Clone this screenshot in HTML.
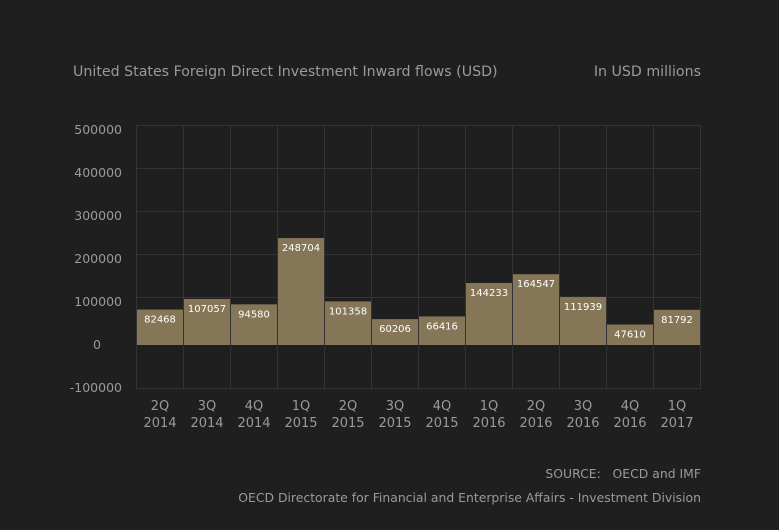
<html><head><style>body{margin:0;background:#1f1f1f}text{font-family:"DejaVu Sans","Liberation Sans",sans-serif}</style></head><body>
<svg width="779" height="530" viewBox="0 0 779 530" xmlns="http://www.w3.org/2000/svg">
<rect width="779" height="530" fill="#1f1f1f"/>
<text x="73" y="76" font-size="14.2" fill="#9a9a9a">United States Foreign Direct Investment Inward flows (USD)</text>
<text x="701" y="76" font-size="14.2" fill="#9a9a9a" text-anchor="end">In USD millions</text>
<g stroke="#343434" stroke-width="1">
<line x1="136" y1="125.5" x2="700" y2="125.5"/><line x1="136" y1="168.5" x2="700" y2="168.5"/><line x1="136" y1="211.5" x2="700" y2="211.5"/><line x1="136" y1="254.5" x2="700" y2="254.5"/><line x1="136" y1="297.5" x2="700" y2="297.5"/><line x1="136" y1="344.5" x2="700" y2="344.5"/><line x1="136" y1="388.5" x2="700" y2="388.5"/>
</g>
<g id="v" stroke="#343434"></g>
<g id="b"></g>
<g font-size="12.5" fill="#9a9a9a" text-anchor="end">
<text x="122" y="134">500000</text><text x="122" y="177">400000</text><text x="122" y="220">300000</text><text x="122" y="263">200000</text><text x="122" y="306">100000</text><text x="101" y="349">0</text><text x="122" y="392">-100000</text>
</g>
<g id="x" font-size="13" fill="#9a9a9a" text-anchor="middle"></g>
<text x="701" y="478" font-size="12.4" fill="#9a9a9a" text-anchor="end" xml:space="preserve">SOURCE:   OECD and IMF</text>
<text x="701" y="502" font-size="12.4" fill="#9a9a9a" text-anchor="end">OECD Directorate for Financial and Enterprise Affairs - Investment Division</text>
<script>
var vals=[82468,107057,94580,248704,101358,60206,66416,144233,164547,111939,47610,81792];
var q=["2Q","3Q","4Q","1Q","2Q","3Q","4Q","1Q","2Q","3Q","4Q","1Q"],yr=["2014","2014","2014","2015","2015","2015","2015","2016","2016","2016","2016","2017"];
var ns="http://www.w3.org/2000/svg",bg=document.getElementById("b"),vg=document.getElementById("v"),xg=document.getElementById("x");
function el(t,a,p,txt){var e=document.createElementNS(ns,t);for(var k in a)e.setAttribute(k,a[k]);if(txt)e.textContent=txt;p.appendChild(e);}
for(var i=0;i<=12;i++){var xx=136.5+47*i;el("line",{x1:xx,y1:125,x2:xx,y2:389},vg);}
for(var i=0;i<12;i++){var x0=137+47*i,h=vals[i]*0.43/1000,ty=345-h;
el("rect",{x:x0,y:ty,width:46,height:h,fill:"#857657"},bg);
el("text",{x:x0+23,y:ty+13,"font-size":"10","fill":"#fff","text-anchor":"middle"},bg,String(vals[i]));
el("text",{x:x0+23,y:410},xg,q[i]);el("text",{x:x0+23,y:427},xg,yr[i]);}
</script>
</svg></body></html>
